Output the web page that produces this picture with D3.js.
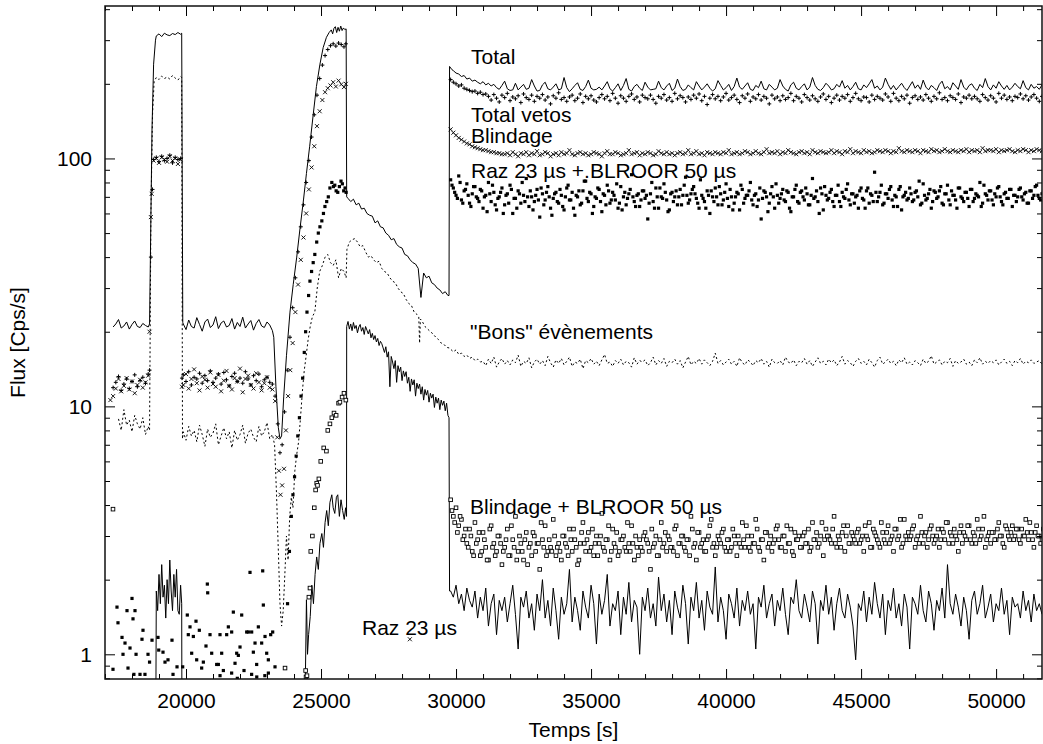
<!DOCTYPE html>
<html><head><meta charset="utf-8">
<script src="https://cdn.jsdelivr.net/npm/d3@7"></script>
<style>
body{margin:0;background:#fff;}
svg text{font-family:"Liberation Sans",Arial,Helvetica,sans-serif;fill:#000;}
</style></head>
<body><svg id="c" width="1043" height="744"></svg>
<script>
// ---------------- DATA ----------------
const xMajorTicks = [20000,25000,30000,35000,40000,45000,50000];
const yMajorTicks = [1,10,100];
const labels = ["Total","Total vetos","Blindage","Raz 23 µs +.BLROOR 50 µs","\"Bons\" évènements","Blindage + BLROOR 50 µs","Raz 23 µs"];

// Total (solid line)
const totalA = [20.9,21.5,22.4,20.7,21.1,21.9,20.5,21.4,22.1,21.0,20.8,21.6,21.2,20.9]; // from 17300 every 100 s
const totalSpike = [[18650,21.5],[18740,130],[18800,240],[18870,300],[18900,312],[19000,318],[19100,310],[19200,320],[19300,315],[19400,313],[19500,319],[19600,316],[19700,322],[19800,317],[19840,320],[19880,21.8]];
const totalB = [21.5,20.4,22.3,21.0,20.7,22.8,21.4,20.1,21.9,22.5,20.8,21.3,23.0,20.6,21.7,22.1,20.9,21.2,22.6,20.5,21.8,21.0,22.9,20.7,21.5,22.2,20.3,21.6,22.4,21.1,20.8,21.9,21.3,20.2]; // from 19900
const totalHump = [[23250,19],[23330,12],[23420,8.2],[23480,7.4],[23540,7.6],[23620,11],[23720,16],[23850,24],[23970,31],[24100,40],[24220,52],[24350,68],[24460,87],[24580,112],[24710,150],[24830,195],[24960,240],[25080,280],[25200,308],[25300,322],[25380,330],[25430,318],[25480,335],[25530,340],[25580,322],[25630,338],[25680,326],[25730,342],[25780,328],[25830,336],[25880,331],[25930,333],[25950,70]];
const totalDecay = [69,67,68.5,65,66,62.5,63,60,59,58.5,55,56,53,52.5,50,49,47,47.5,45,44,43.5,41,40.5,39,38,37.5,36,27.5,34.5,33,33.5,31.5,31,30,29.5,28.5,29,28]; // from 26000
const totalJump = [[29740,28],[29760,235],[29850,228]];
const totalPost = [226,221,219,214,216,209,211,205,207,203,200,204,198,201,196,199,
193,190,197,205,191,188,189,201,189,194,199,190,192,208,196,187,188,198,203,191,
189,194,200,189,191,212,193,186,191,197,202,190,188,195,207,192,189,190,194,189,
196,204,191,187,193,200,188,197,210,190,187,195,199,192,188,203,194,189,190,191,
205,193,189,196,201,188,192,209,195,188,190,198,193,189,204,196,189,194,200,192,
187,191,206,197,189,193,199,188,195,211,194,190,196,202,190,188,197,193,205,191,
189,199,194,189,192,208,196,190,187,198,203,192,189,195,200,189,194,212,197,190,
188,193,201,196,189,191,199,194,206,192,197,189,195,203,191,189,198,193,200,208,
192,196,189,194,211,199,190,197,189,195,201,193,188,196,204,192,198,190,207,194,
189,197,193,188,199,205,191,195,189,202,196,190,208,194,189,197,200,192,188,199,
193,210,195,189,198,192,204,196,190,197,189,194,201,195,191,206,193,189,199,192,195,190,198]; // from 29900

// Total vetos (+)
const vetosA = [11.9,12.5,13.2,11.6,12.3,12.9,11.8,12.6,13.4,12.0,12.7,13.1,12.4,13.5]; // from 17300
const vetosSpike = [[18650,14],[18700,40],[18760,75],[18800,99],[18900,101],[19000,97],[19100,102],[19200,98],[19300,100],[19400,103],[19500,96],[19600,101],[19700,99],[19800,100],[19850,13]];
const vetosB = [13.4,12.6,13.8,12.2,13.1,12.9,13.6,12.4,13.3,12.7,13.9,12.5,13.0,13.5,12.3,13.7,12.8,12.1,13.2,13.6,12.6,13.0,12.4,13.8,12.9,12.2,13.3,12.7,13.5,12.0,12.8,13.1,12.5,12.3];
const vetosHump = [[23300,11],[23400,8.5],[23480,6.5],[23560,7],[23650,9.5],[23750,14],[23850,19],[23950,25],[24050,33],[24150,42],[24250,53],[24350,65],[24450,80],[24550,98],[24650,122],[24750,150],[24850,180],[24950,210],[25050,238],[25150,260],[25250,275],[25350,285],[25450,290],[25550,284],[25650,292],[25750,288],[25850,282],[25920,290]];
const vetosPost = [208,203,200,196,198,192,190,188,186,187,183,185,181,182,
178,172,181,175,169,180,176,183,171,177,174,179,168,182,176,173,180,170,178,175,
181,172,177,166,179,175,184,173,176,170,177,180,171,175,182,168,178,174,179,172,
169,176,181,174,178,171,183,175,167,179,175,170,178,182,173,177,169,180,176,174,
180,173,167,178,175,181,172,176,170,183,174,179,176,169,177,173,180,175,182,171,
178,165,175,181,174,178,171,177,183,172,176,180,173,168,179,175,182,170,177,174,
181,172,178,175,166,180,174,177,171,179,173,176,183,171,178,175,169,181,176,172,
179,174,170,177,182,173,178,168,175,180,172,178,175,181,170,176,183,174,171,177,
176,169,180,173,178,175,172,182,177,170,183,175,171,178,174,180,167,176,179,173,
177,172,181,175,170,178,174,184,173,176,171,179,176,173,182,168,177,175,180,174,
178,174,170,181,176,172,179,175,169,183,175,180,173,177,171,178,176,182,174,179,172,177,181,175,170,178]; // from 29800

// Blindage (x)
const blindA = [10.6,11.0,11.8,12.9,11.5,12.1,13.0,11.7,12.6,11.3,12.2,12.8,11.9,12.5,13.3]; // from 17200
const blindSpike = [[18650,20],[18700,58],[18730,72],[18800,98],[18900,100],[19000,96],[19100,101],[19200,99],[19300,97],[19400,102],[19500,98],[19600,100],[19700,95],[19800,99],[19850,12]];
const blindB = [12.2,13.5,11.8,12.9,14.1,12.4,11.6,13.2,12.8,11.9,13.7,12.3,12.0,13.4,11.5,12.7,13.9,12.1,11.7,13.0,12.6,14.2,11.4,12.9,13.3,12.2,11.8,13.6,12.5,11.6,12.4,13.1,11.9,11.7];
const blindHump = [[23300,10.5],[23380,7.5],[23440,5.5],[23500,4.4],[23560,4.8],[23630,5.6],[23700,8],[23780,11],[23860,14],[23950,18],[24050,24],[24150,31],[24250,39],[24350,48],[24450,60],[24550,75],[24650,92],[24750,112],[24850,135],[24950,155],[25050,172],[25150,185],[25250,192],[25350,197],[25450,203],[25550,195],[25650,206],[25750,199],[25850,194],[25920,200],[28290,1.15]];
const blindPost = [131,127,124,121,119,117,115,114,112,111,110,109,108,108,107,106,106,105,105,104,
104,105,103,106,104,102,105,104,106,103,105,104,107,103,104,106,105,102,104,105,
103,106,104,105,108,104,103,105,106,104,105,103,104,106,105,104,102,105,107,104,
104,106,105,103,104,105,108,104,105,106,103,105,104,106,105,103,104,107,105,104,
106,104,105,103,105,106,104,105,108,104,105,107,104,105,103,106,105,104,106,105,
104,106,105,108,104,105,106,104,105,107,106,104,105,107,105,104,106,109,105,106,
105,107,104,106,105,108,106,105,104,106,107,105,106,104,108,106,105,107,106,105,
106,108,105,107,106,104,107,106,109,105,107,106,105,108,106,107,105,106,108,107,
106,108,107,105,107,106,110,107,106,108,107,106,108,107,105,108,107,106,109,107,
108,106,107,109,107,106,108,107,106,108,107,109,106,108,107,108,106,110,107,108,
108,107,109,106,108,107,108,109,107,106,108,107,109,108,106,108,107,109,108,107]; // from 29800

// Raz 23 µs + BLROOR 50 µs (filled squares)
const razBlPre = [[17296,0.87],[17444,1.55],[17481,1.34],[17630,1.17],[17667,1.0],[17741,1.11],[17815,1.5],[17852,0.88],[17926,1.06],[18000,1.68],[18037,1.39],[18070,0.83],[18111,1.5],[18150,1.0],[18296,0.83],[18370,1.15],[18407,1.25],[18480,0.83],[18593,1.0],[18650,0.93],[18741,1.14],
[18963,1.17],[18990,1.04],[19148,1.02],[19222,0.93],[19333,0.95],[19481,1.14],[19519,0.83],[19667,0.89]];
const razBlMid = [[19877,0.89],[20048,1.44],[20085,1.2],[20148,1.29],[20210,1.01],[20272,1.18],[20370,1.36],[20395,0.95],[20493,1.25],[20580,0.88],[20642,0.93],[20740,1.08],[20790,1.92],[20803,1.77],[20889,1.2],[20951,1.01],[21136,0.91],[21198,0.91],[21259,1.2],[21321,1.01],[21383,0.86],[21506,1.2],[21568,1.29],[21691,1.23],[21753,1.48],[21815,0.92],[21877,1.01],[21938,0.99],[22000,1.07],[22062,1.44],[22148,0.86],[22247,1.23],[22309,1.23],[22370,2.14],[22432,1.23],[22494,1.02],[22556,1.11],[22617,0.91],[22679,1.29],[22802,1.11],[22840,2.17],[22864,1.58],[22926,1.18],[22988,1.01],[23049,0.95],[23136,1.2],[23210,1.23],[23296,0.89],
[21260,0.82],[21690,0.84],[21900,0.8],[22430,0.83],[22620,0.81],[22920,0.82],[23050,0.84]];
const razBlHump = [[23670,0.88],[23760,1.6],[23830,2.6],[23900,3.6],[23960,4.4],[24020,5.2],[24080,6.3],[24140,7.6],[24200,9],[24260,11],[24320,13],[24380,16.5],[24430,20],[24480,24],[24540,28],[24590,32],[24650,35],[24710,38],[24770,41],[24840,46],[24900,50],[24960,53],[25030,56],[25090,60],[25145,64],[25210,67],[25270,70],[25330,76],[25400,80],[25460,77],[25510,78],[25560,74],[25620,73],[25680,77],[25740,81],[25790,79],[25840,74],[25890,76],[25930,73]];
const razBlPost = [82,76,71,85,68,74,79,66,72,77,69,75,63,71,80,67,73,62,70,76,
65,72,78,60,69,74,66,71,83,64,70,67,75,58,72,68,77,63,69,73,
66,71,62,76,68,73,59,70,65,74,81,67,72,64,69,75,61,71,78,66,
73,68,63,77,70,65,72,86,67,71,64,74,69,57,72,67,76,63,70,79,
68,62,73,70,65,75,71,84,66,72,77,69,63,71,67,74,60,70,76,65,
72,68,79,64,70,66,73,62,75,69,71,80,65,72,68,57,74,70,66,77,
63,71,69,75,67,73,61,70,78,66,74,68,72,65,83,70,67,76,62,71,
69,75,64,71,67,73,69,79,65,72,70,63,76,68,74,66,71,88,67,73,
65,72,69,77,64,70,75,62,71,68,76,67,73,70,65,79,68,72,63,74,
69,74,66,72,78,65,71,68,76,70,67,73,64,75,69,71,80,66,72,68,
74,65,70,77,67,72,69,75,64,71,70,76,68,73,66,74,71,78,69,72]; // from 29800
const razBlPost2 = [78,73,69,80,66,75,71,64,77,70,67,74,70,61,72,78,65,69,73,60,
71,66,75,69,63,72,80,67,70,74,62,71,68,76,65,73,70,59,72,67,
75,64,70,78,68,63,71,74,66,81,69,73,60,70,76,67,72,65,74,68,
71,79,66,62,73,69,75,70,64,72,68,74,71,66,80,63,70,76,69,73,
61,72,67,74,70,65,78,71,68,75,72,66,82,69,63,71,74,67,70,77,
65,73,69,75,62,70,72,78,66,71,74,68,71,64,76,69,73,61,72,70,
79,66,72,68,74,63,70,75,67,73,70,76,65,71,69,74,60,72,77,68,
73,67,71,78,64,70,75,68,72,66,71,74,69,63,76,72,67,73,70,78,
66,72,75,68,71,64,77,70,73,69,72,68,74,81,66,71,69,75,67,73,
70,77,65,72,68,74,71,63,76,69,73,69,75,67,72,70,64,78,71,74,
68,72,76,70,65,73,69,75,71,67,75,70,72,66,74,69,77,71,68,73]; // from 29850

// "Bons" évènements (dotted line)
const bonsA = [8.9,8.0,9.7,8.4,8.8,7.9,9.2,8.5,8.1,9.0,7.7,8.3]; // from 17500
const bonsSpike = [[18650,8],[18700,60],[18760,150],[18820,205],[18900,212],[19000,208],[19100,215],[19200,210],[19300,213],[19400,209],[19500,216],[19600,211],[19700,207],[19800,214],[19840,212],[19870,7.4]];
const bonsB = [7.9,7.3,8.3,7.6,8.0,7.2,8.4,7.7,6.9,8.1,7.5,7.8,8.5,7.0,7.6,8.2,7.4,7.9,6.8,8.0,7.3,7.7,8.4,7.1,7.8,8.1,7.5,7.2,8.3,7.6,7.9,8.6,7.4,7.7];
const bonsHump = [[23280,7],[23350,4.5],[23420,2.6],[23480,1.6],[23540,1.3],[23600,1.5],[23660,2.1],[23720,3.0],[23780,2.4],[23840,3.6],[23900,4.3],[23960,3.9],[24030,5.5],[24100,6.4],[24170,7.2],[24240,9],[24310,11.5],[24380,14],[24450,16],[24520,18.5],[24600,21],[24680,23],[24770,24],[24860,30],[24950,35],[25050,37],[25150,40],[25250,41],[25350,38],[25450,37],[25550,39],[25650,33],[25750,36],[25850,35],[25930,33],[25960,43],[26050,46],[26150,47],[26250,47.5],[26350,46],[26450,44],[26550,44.5],[26650,42],[26750,40],[26850,40.5],[26950,39],[27050,38],[27150,38.5],[27250,36],[27350,35],[27450,34.5],[27550,33],[27650,32],[27750,31.5],[27850,30],[27950,29],[28050,28.5],[28150,27],[28250,26],[28350,25.5],[28450,24],[28550,23.5],[28620,23],[28650,18],[28680,22.5],[28750,22],[28850,21],[28950,20.5],[29050,20],[29150,19.6],[29250,19],[29350,18.6],[29450,18],[29550,17.8],[29650,17.3],[29750,17.2],[29850,16.8]];
const bonsPost = [16.6,16.9,16.2,16.4,15.9,16.1,15.6,15.8,15.3,15.5,15.1,
15.2,14.6,15.5,14.9,15.8,14.4,15.1,15.6,14.8,15.3,14.7,15.4,15.0,16.1,14.5,15.2,14.9,15.7,14.3,15.1,
15.5,14.8,15.3,14.6,15.9,15.0,14.4,15.4,14.9,15.6,14.7,15.2,15.8,14.5,15.1,14.9,15.5,14.2,15.3,15.0,
15.6,14.8,15.2,14.6,15.4,16.2,14.9,15.1,14.5,15.3,14.9,15.5,14.7,15.2,15.0,14.4,15.7,14.8,15.3,15.1,
15.4,14.6,15.0,15.8,14.7,15.3,14.9,15.6,14.5,15.2,15.0,15.5,14.8,15.3,14.3,15.1,15.9,14.7,15.2,14.9,
15.6,14.8,15.4,15.0,14.6,15.2,16.4,14.9,15.3,14.7,15.1,15.5,14.8,15.2,14.5,15.7,15.0,14.7,15.4,15.1,
14.6,15.3,15.0,15.6,14.8,15.2,14.4,15.5,15.0,14.9,15.3,14.7,15.8,15.1,14.9,15.4,14.6,15.2,15.0,15.6,
14.8,15.3,14.5,15.1,15.7,14.9,15.2,14.7,15.5,15.0,15.4,14.6,15.1,15.9,14.8,15.3,15.0,14.5,15.2,15.6,
14.9,15.2,14.7,15.5,15.0,14.4,15.3,15.8,14.8,15.1,15.5,14.9,15.2,14.6,15.4,15.0,15.7,14.8,15.1,14.7,
15.3,15.0,14.6,15.5,14.9,15.2,16.0,14.8,15.1,15.4,14.7,15.2,15.0,15.6,14.5,15.3,14.9,15.1,15.5,14.8,
15.1,14.6,15.4,15.0,15.7,14.8,15.2,14.9,15.3,15.0,15.4,14.7,15.1,15.5,14.9,15.2,14.6,15.3,15.0,15.6,
14.8,15.2,15.0,15.4,14.9,15.1,15.3,14.8]; // from 29900

// Blindage + BLROOR 50 µs (open squares)
const bbPre = [[17296,3.85],[23667,0.88],[24430,0.86],[24445,0.81]];
const bbHump = [[24480,0.82],[24550,1.7],[24590,1.85],[24620,2.6],[24680,3.0],[24750,3.9],[24800,4.6],[24840,4.9],[24870,4.8],[24920,5.1],[24990,6.0],[25100,6.8],[25200,6.6],[25250,8.0],[25330,8.5],[25400,9.0],[25480,9.4],[25560,9.2],[25650,10.3],[25700,10.4],[25780,10.9],[25850,11.3],[25920,10.6]];
const bbPost = [4.2,3.6,3.9,3.3,3.5,3.0,2.8,3.2,2.6,3.4,2.9,2.5,3.1,2.7,2.4,3.3,2.8,2.6,3.0,2.3,
2.7,3.2,2.5,2.9,3.6,2.6,2.8,2.4,3.1,2.7,2.5,3.0,2.8,2.2,2.9,3.3,2.6,2.7,3.5,2.5,
2.8,2.4,3.0,2.7,3.2,2.6,2.9,2.3,2.8,3.4,2.6,3.1,2.7,2.5,3.0,2.8,3.7,2.6,2.9,2.4,
3.2,2.7,2.5,2.9,3.0,2.6,2.8,3.3,2.4,2.7,2.9,2.6,3.1,2.8,2.2,2.7,3.0,2.5,3.4,2.8,
2.6,2.9,2.7,3.2,2.5,2.8,3.0,2.6,2.9,3.6,2.7,2.4,3.1,2.8,2.6,2.9,3.3,2.7,2.5,3.0,
2.8,3.2,2.6,2.9,2.7,3.0,2.5,2.8,3.4,2.7,3.0,2.6,2.8,3.5,2.7,2.9,2.4,3.1,2.8,2.6,
2.9,3.3,2.7,3.0,2.6,2.8,3.2,2.5,2.9,3.0,2.7,3.1,2.8,2.6,3.4,2.9,2.7,3.0,2.5,3.2,
3.0,2.8,3.6,2.7,2.9,3.1,2.6,3.3,2.8,3.0,2.8,3.2,2.9,2.6,3.0,3.4,2.7,3.1,2.9,2.7,
3.1,2.8,3.3,2.9,2.6,3.2,3.0,2.7,3.5,2.9,2.9,3.2,2.7,3.0,3.6,2.8,3.1,2.9,3.3,2.8,
3.0,2.7,3.2,2.9,3.4,3.1,2.8,3.0,2.6,3.3,3.1,2.9,3.3,2.8,3.0,3.5,2.9,3.2,2.7,3.0,
2.8,3.1,2.9,3.4,3.0,2.7,3.2,2.9,3.3,3.0,3.2,2.8,3.0,3.5,2.9,3.1,2.7,3.3,3.0,2.9]; // from 29800
const bbPost2 = [3.8,3.4,3.1,3.6,2.9,3.2,2.7,3.0,2.5,2.8,3.1,2.6,2.9,2.4,3.2,2.7,2.5,3.0,2.8,2.6,
2.9,2.5,3.3,2.7,2.4,3.0,2.6,2.9,2.3,2.8,3.1,2.6,2.8,3.4,2.7,2.5,2.9,2.6,3.0,2.7,
2.6,3.0,2.8,2.5,2.9,3.2,2.7,2.4,3.1,2.8,2.9,2.6,3.2,2.8,2.5,3.0,2.7,2.9,3.3,2.6,
2.8,3.1,2.6,2.9,2.7,3.4,2.6,2.8,3.0,2.5,2.7,3.0,2.9,2.6,3.2,2.8,2.5,2.9,2.7,3.1,
3.0,2.7,2.6,3.3,2.8,3.0,2.7,2.9,2.5,3.2,2.8,3.1,2.7,2.9,2.6,3.0,3.5,2.8,2.7,2.9,
3.1,2.7,2.9,2.6,3.2,2.8,3.0,2.7,2.9,3.3,2.7,3.0,2.8,3.2,2.6,2.9,3.1,2.7,3.0,2.8,
3.2,2.9,2.7,3.0,3.3,2.8,2.6,3.1,2.9,2.7,3.0,2.8,3.2,2.7,2.9,3.1,2.8,3.4,2.9,3.0,
2.9,3.2,2.8,3.0,2.7,3.3,3.0,2.8,3.1,2.9,3.1,2.8,3.0,3.3,2.9,2.7,3.2,3.0,2.8,3.4,
2.9,3.1,2.8,3.0,3.2,2.9,3.5,2.8,3.0,3.1,3.0,3.3,2.9,2.8,3.1,3.0,2.7,3.2,3.0,2.9,
3.2,2.9,3.1,3.4,2.8,3.0,3.2,2.9,3.1,2.8,3.0,3.3,2.9,3.1,2.8,3.2,3.0,3.6,2.9,3.1,
3.1,2.9,3.2,3.0,2.8,3.3,3.0,3.1,2.9,3.2,2.9,3.2,3.0,3.1,3.4,2.9,3.1,3.0,2.8,3.2]; // from 29850

// Raz 23 µs (solid line)
const razPre = [[17000,0.5],[18880,0.5]];
const razSpike = [1.8,1.5,2.1,1.6,2.3,1.7,1.9,1.4,2.0,1.6,2.4,1.8,1.5,2.1,1.7,2.2,1.5,1.45,1.9]; // from 18900 every 50 s
const razHump = [[19840,1.6],[19850,0.5],[24380,0.5],[24420,0.8],[24460,1.66],[24500,1.0],[24540,1.2],[24600,1.42],[24660,1.9],[24720,1.6],[24780,2.1],[24840,2.47],[24900,2.2],[24960,2.8],[25030,3.07],[25090,2.7],[25150,3.4],[25210,3.8],[25270,3.3],[25330,4.1],[25400,4.4],[25450,3.9],[25510,3.7],[25570,4.3],[25620,4.4],[25680,3.6],[25740,4.2],[25800,3.8],[25860,3.5],[25910,3.9],[25945,3.6]];
const razDecay = [21.0,22.0,20.5,21.5,20.2,21.8,20.6,21.2,19.8,20.9,21.4,20.1,20.8,19.5,21.0,20.3,19.6,20.4,18.9,19.7,18.6,19.3,18.2,18.8,17.6,18.3,17.9,17.2,16.5,17.4,15.8,16.6,12.0,15.9,15.1,14.2,15.3,12.5,14.6,13.8,14.4,12.7,13.9,13.2,13.8,12.4,13.1,11.5,12.9,12.2,12.8,11.0,12.4,11.8,12.3,11.2,12.0,10.6,11.7,11.1,11.6,10.4,11.3,10.8,11.2,9.9,10.9,10.3,10.8,9.7,10.6,10.1,10.5,9.6,10.3,9.2]; // from 25950 every 50 s
const razJump = [[29740,9.0],[29760,1.8]];
const razPost = [1.8,1.7,1.9,1.6,1.75,1.5,1.85,1.65,1.55,1.8,1.4,1.7,1.5,1.85,1.3,1.6,1.75,1.2,1.65,1.5,
1.7,1.35,1.6,1.9,1.45,1.05,1.7,1.55,1.8,1.4,1.6,1.25,1.75,1.5,2.0,1.4,1.65,1.3,1.85,1.5,
1.15,1.7,1.45,1.6,2.2,1.35,1.7,1.5,1.25,1.8,1.55,1.4,1.9,1.6,1.1,1.75,1.45,1.65,2.1,1.3,
1.6,1.5,1.8,1.2,1.7,1.45,1.95,1.35,1.65,1.55,1.0,1.7,1.5,1.85,1.4,1.6,1.3,2.05,1.5,1.75,
1.35,1.65,1.2,1.8,1.55,1.4,1.9,1.6,1.1,1.7,1.5,1.95,1.4,1.65,1.25,1.8,1.55,1.45,2.25,1.35,
1.7,1.5,1.15,1.75,1.6,1.4,1.85,1.3,1.65,1.5,1.8,1.45,1.6,1.05,1.7,1.55,1.9,1.4,1.6,1.75,
1.3,1.65,1.5,1.85,1.45,1.2,1.7,1.6,2.0,1.5,1.4,1.75,1.55,1.35,1.8,1.6,1.1,1.65,1.5,1.9,
1.45,1.7,1.25,1.6,1.85,1.5,1.4,1.75,1.55,1.3,0.95,1.6,1.5,1.8,1.35,1.7,1.45,1.95,1.6,1.4,
1.75,1.2,1.65,1.5,1.85,1.4,1.6,1.3,1.75,1.55,1.05,1.7,1.6,1.45,1.9,1.5,1.35,1.8,1.6,1.25,
1.65,1.5,1.85,1.4,2.3,1.6,1.45,1.75,1.55,1.3,1.7,1.5,1.15,1.65,1.8,1.45,1.6,1.9,1.4,1.55,
1.75,1.35,1.6,1.5,1.85,1.45,1.65,1.2,1.7,1.55,1.6,1.4,1.8,1.5,1.65,1.35,1.75,1.5,1.6,1.45]; // from 29800

// ---------------- BUILD ----------------
const seg = (t0, dt, vals) => vals.map((v, i) => [t0 + i * dt, v]);
const totalData = [...seg(17300,100,totalA), ...totalSpike, ...seg(19900,100,totalB), ...totalHump, ...seg(26000,100,totalDecay), ...totalJump, ...seg(29900,100,totalPost)];
const vetosData = [...seg(17300,100,vetosA), ...vetosSpike, ...seg(19900,100,vetosB), ...vetosHump, ...seg(29800,100,vetosPost)];
const blindData = [...seg(17200,100,blindA), ...blindSpike, ...seg(19900,100,blindB), ...blindHump, ...seg(29800,100,blindPost)];
const razBlData = [...razBlPre, ...razBlMid, ...razBlHump, ...seg(29800,100,razBlPost), ...seg(29850,100,razBlPost2)];
const bonsData = [...seg(17500,100,bonsA), ...bonsSpike, ...seg(19900,100,bonsB), ...bonsHump, ...seg(29900,100,bonsPost)];
const bbData = [...bbPre, ...bbHump, ...seg(29800,100,bbPost), ...seg(29850,100,bbPost2)];
const razData = [...razPre, ...seg(18900,50,razSpike), ...razHump, ...seg(25950,50,razDecay), ...razJump, ...seg(29800,100,razPost)];

// ---------------- DRAW ----------------
const FS = "21px";
const svg = d3.select("#c");
const L = 105, R = 1042, T = 6, B = 679;
const x = d3.scaleLinear().domain([17000, 51700]).range([L, R]);
const y = d3.scaleLog().domain([0.795, 412]).range([B, T]);

svg.append("defs").append("clipPath").attr("id","clip")
  .append("rect").attr("x",L).attr("y",T).attr("width",R-L).attr("height",B-T);
const plot = svg.append("g").attr("clip-path","url(#clip)");

const line = d3.line().x(d => x(d[0])).y(d => y(d[1]));

plot.append("path").datum(bonsData).attr("d",line)
  .attr("fill","none").attr("stroke","#000").attr("stroke-width",1).attr("stroke-dasharray","2,2.5");
plot.append("path").datum(totalData).attr("d",line)
  .attr("fill","none").attr("stroke","#000").attr("stroke-width",1);
plot.append("path").datum(razData).attr("d",line)
  .attr("fill","none").attr("stroke","#000").attr("stroke-width",1);

plot.append("g").selectAll("path").data(vetosData).join("path")
  .attr("transform",d=>`translate(${x(d[0])},${y(d[1])})`)
  .attr("d","M-2,0H2M0,-2V2").attr("stroke","#000").attr("stroke-width",1).attr("fill","none");
plot.append("g").selectAll("path").data(blindData).join("path")
  .attr("transform",d=>`translate(${x(d[0])},${y(d[1])})`)
  .attr("d","M-2,-2L2,2M-2,2L2,-2").attr("stroke","#000").attr("stroke-width",0.9).attr("fill","none");
plot.append("g").selectAll("rect").data(razBlData).join("rect")
  .attr("x",d=>x(d[0])-1.6).attr("y",d=>y(d[1])-1.6).attr("width",3.2).attr("height",3.2)
  .attr("fill","#000");
plot.append("g").selectAll("rect").data(bbData).join("rect")
  .attr("x",d=>x(d[0])-1.8).attr("y",d=>y(d[1])-1.8).attr("width",3.6).attr("height",3.6)
  .attr("fill","#fff").attr("stroke","#000").attr("stroke-width",0.9);

// axes
const minorX = d3.range(17000, 51701, 1000).filter(v => v % 5000 !== 0);
const minorY = [];
[0.1,1,10,100].forEach(p => { for (let k=2;k<=9;k++){ const v=k*p; if (v>0.795 && v<412) minorY.push(v); } });
const fmt = d3.format("d");
function styleAxis(g){ g.select(".domain").remove(); g.selectAll("line").attr("stroke","#000").attr("stroke-width",1); g.selectAll("text").style("font-size",FS).style("font-family","'Liberation Sans',Arial,sans-serif").attr("fill","#000"); }

svg.append("g").attr("transform",`translate(0,${B})`).call(d3.axisBottom(x).tickValues(xMajorTicks).tickSize(-10).tickPadding(14).tickFormat(fmt)).call(styleAxis);
svg.append("g").attr("transform",`translate(0,${B})`).call(d3.axisBottom(x).tickValues(minorX).tickSize(-5).tickFormat("")).call(styleAxis);
svg.append("g").attr("transform",`translate(0,${T})`).call(d3.axisTop(x).tickValues(xMajorTicks).tickSize(-10).tickFormat("")).call(styleAxis);
svg.append("g").attr("transform",`translate(0,${T})`).call(d3.axisTop(x).tickValues(minorX).tickSize(-5).tickFormat("")).call(styleAxis);
svg.append("g").attr("transform",`translate(${L},0)`).call(d3.axisLeft(y).tickValues(yMajorTicks).tickSize(-10).tickPadding(13).tickFormat(fmt)).call(styleAxis);
svg.append("g").attr("transform",`translate(${L},0)`).call(d3.axisLeft(y).tickValues(minorY).tickSize(-5).tickFormat("")).call(styleAxis);
svg.append("g").attr("transform",`translate(${R},0)`).call(d3.axisRight(y).tickValues(yMajorTicks).tickSize(-10).tickFormat("")).call(styleAxis);
svg.append("g").attr("transform",`translate(${R},0)`).call(d3.axisRight(y).tickValues(minorY).tickSize(-5).tickFormat("")).call(styleAxis);

svg.append("rect").attr("x",L).attr("y",T).attr("width",R-L).attr("height",B-T)
  .attr("fill","none").attr("stroke","#111").attr("stroke-width",1.5);

svg.append("text").attr("x",(L+R)/2).attr("y",737).attr("text-anchor","middle").style("font-size",FS).text("Temps [s]");
svg.append("text").attr("transform",`translate(25,${(T+B)/2}) rotate(-90)`).attr("text-anchor","middle").style("font-size",FS).text("Flux [Cps/s]");

const labelPos = [[471,64],[471,122],[471,143],[471,178],[470,339],[470,514],[362,635]];
labels.forEach((s,i)=> svg.append("text").attr("x",labelPos[i][0]).attr("y",labelPos[i][1]).style("font-size",FS).text(s));
</script></body></html>
